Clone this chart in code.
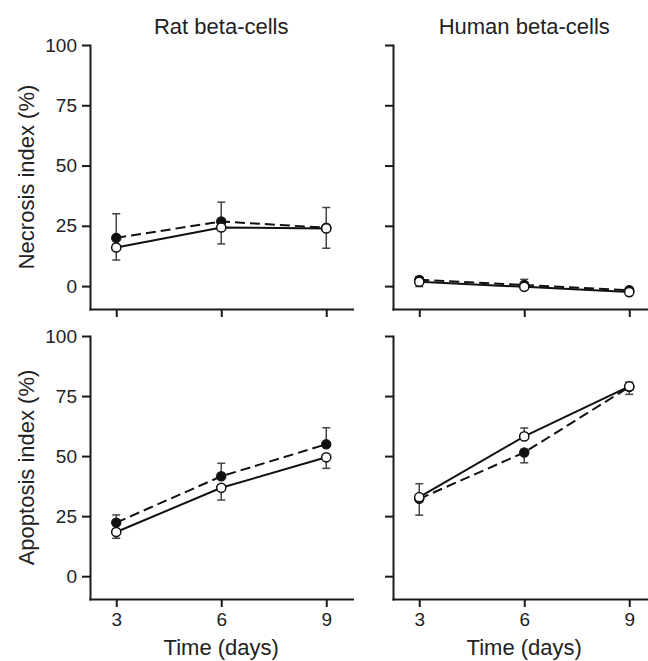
<!DOCTYPE html>
<html>
<head>
<meta charset="utf-8">
<script src="https://cdn.jsdelivr.net/npm/d3@7"></script>
<style>
  body { margin: 0; background: #fff; }
  svg { font-family: "Liberation Sans", Arial, sans-serif; }
  .axis path, .axis line { stroke: #1a1a1a; stroke-width: 2; }
  .axis text { font-size: 19px; fill: #222; }
</style>
</head>
<body>
<div id="chart"></div>
<script>
(function () {
  "use strict";

  // values
  const days = [3, 6, 9];
  const yTicks = [0, 25, 50, 75, 100];
  const colTitles = ["Rat beta-cells", "Human beta-cells"];
  const rowLabels = ["Necrosis index (%)", "Apoptosis index (%)"];
  const xLabel = "Time (days)";

  // filled circles (dashed line) / open circles (solid line)
  const ratNecrosisFilled = [20, 26.8, 24.2];
  const ratNecrosisFilledErr = [10, 8, 8.4];
  const ratNecrosisOpen = [16, 24.3, 23.9];
  const ratNecrosisOpenErr = [5.2, 6.8, 8.2];

  const humanNecrosisFilled = [2.6, 0.5, -1.7];
  const humanNecrosisFilledErr = [1.2, 2.3, 0.6];
  const humanNecrosisOpen = [1.8, -0.3, -2.5];
  const humanNecrosisOpenErr = [2, 0.6, 0.5];

  const ratApoptosisFilled = [22.3, 41.6, 54.9];
  const ratApoptosisFilledErr = [3.2, 5.4, 6.9];
  const ratApoptosisOpen = [18.4, 36.8, 49.5];
  const ratApoptosisOpenErr = [2.6, 5.1, 4.6];

  const humanApoptosisFilled = [32.2, 51.5, 78.8];
  const humanApoptosisFilledErr = [6.8, 4.3, 3.1];
  const humanApoptosisOpen = [32.9, 58.2, 79.0];
  const humanApoptosisOpenErr = [5.6, 3.5, 1.8];

  const panels = [
    { row: 0, col: 0, filled: ratNecrosisFilled, filledErr: ratNecrosisFilledErr, open: ratNecrosisOpen, openErr: ratNecrosisOpenErr },
    { row: 0, col: 1, filled: humanNecrosisFilled, filledErr: humanNecrosisFilledErr, open: humanNecrosisOpen, openErr: humanNecrosisOpenErr },
    { row: 1, col: 0, filled: ratApoptosisFilled, filledErr: ratApoptosisFilledErr, open: ratApoptosisOpen, openErr: ratApoptosisOpenErr },
    { row: 1, col: 1, filled: humanApoptosisFilled, filledErr: humanApoptosisFilledErr, open: humanApoptosisOpen, openErr: humanApoptosisOpenErr }
  ];

  const width = 648;
  const height = 661;
  const colLeft = [90, 393];
  const panelWidth = 262.5;
  const rowTop = [45, 336];
  const rowBottom = [309, 599];

  const svg = d3
    .select("#chart")
    .append("svg")
    .attr("width", width)
    .attr("height", height);

  // column titles
  colTitles.forEach((t, c) => {
    svg
      .append("text")
      .attr("x", colLeft[c] + panelWidth / 2)
      .attr("y", 34)
      .attr("text-anchor", "middle")
      .style("font-size", "22px")
      .style("fill", "#222")
      .text(t);
  });

  // row labels
  rowLabels.forEach((t, r) => {
    const cy = (rowTop[r] + rowBottom[r]) / 2;
    svg
      .append("text")
      .attr("transform", `translate(33.5,${cy}) rotate(-90)`)
      .attr("text-anchor", "middle")
      .style("font-size", "22px")
      .style("fill", "#222")
      .text(t);
  });

  // x labels under the bottom row
  colLeft.forEach((x0) => {
    svg
      .append("text")
      .attr("x", x0 + panelWidth / 2)
      .attr("y", 655)
      .attr("text-anchor", "middle")
      .style("font-size", "22px")
      .style("fill", "#222")
      .text(xLabel);
  });

  panels.forEach((p) => {
    const x = d3
      .scaleLinear()
      .domain([2.25, 9.75])
      .range([colLeft[p.col], colLeft[p.col] + panelWidth]);
    const y = d3
      .scaleLinear()
      .domain([-9.5, 100])
      .range([rowBottom[p.row], rowTop[p.row]]);

    const g = svg.append("g");

    g.append("g")
      .attr("class", "axis")
      .attr("transform", `translate(${colLeft[p.col]},0)`)
      .call(
        d3
          .axisLeft(y)
          .tickValues(yTicks)
          .tickSize(8)
          .tickSizeOuter(0)
          .tickPadding(5)
          .tickFormat(p.col === 0 ? d3.format("d") : () => "")
      );

    g.append("g")
      .attr("class", "axis")
      .attr("transform", `translate(0,${rowBottom[p.row]})`)
      .call(
        d3
          .axisBottom(x)
          .tickValues(days)
          .tickSize(8)
          .tickSizeOuter(0)
          .tickPadding(6)
          .tickFormat(p.row === 1 ? d3.format("d") : () => "")
      );

    g.selectAll(".axis .domain").attr("stroke-linecap", "square");

    // one-sided error bars: upper point goes up, lower point goes down
    const bars = [];
    days.forEach((d, i) => {
      const fUp = p.filled[i] >= p.open[i];
      bars.push({ d: d, v: p.filled[i], e: fUp ? p.filledErr[i] : -p.filledErr[i] });
      bars.push({ d: d, v: p.open[i], e: fUp ? -p.openErr[i] : p.openErr[i] });
    });

    const eb = g.append("g").attr("stroke", "#444").attr("stroke-width", 1.5);
    eb.selectAll("line.stem")
      .data(bars)
      .join("line")
      .attr("class", "stem")
      .attr("x1", (b) => x(b.d))
      .attr("x2", (b) => x(b.d))
      .attr("y1", (b) => y(b.v))
      .attr("y2", (b) => y(b.v + b.e));
    eb.selectAll("line.cap")
      .data(bars)
      .join("line")
      .attr("class", "cap")
      .attr("x1", (b) => x(b.d) - 4)
      .attr("x2", (b) => x(b.d) + 4)
      .attr("y1", (b) => y(b.v + b.e))
      .attr("y2", (b) => y(b.v + b.e));

    const line = d3
      .line()
      .x((d, i) => x(days[i]))
      .y((d) => y(d));

    g.append("path")
      .datum(p.filled)
      .attr("d", line)
      .attr("fill", "none")
      .attr("stroke", "#111")
      .attr("stroke-width", 2)
      .attr("stroke-dasharray", "10,5");

    g.append("path")
      .datum(p.open)
      .attr("d", line)
      .attr("fill", "none")
      .attr("stroke", "#111")
      .attr("stroke-width", 2);

    g.selectAll("circle.filled")
      .data(p.filled)
      .join("circle")
      .attr("class", "filled")
      .attr("cx", (d, i) => x(days[i]))
      .attr("cy", (d) => y(d))
      .attr("r", 4.6)
      .attr("fill", "#111")
      .attr("stroke", "#111")
      .attr("stroke-width", 1.2);

    g.selectAll("circle.open")
      .data(p.open)
      .join("circle")
      .attr("class", "open")
      .attr("cx", (d, i) => x(days[i]))
      .attr("cy", (d) => y(d))
      .attr("r", 4.6)
      .attr("fill", "#fff")
      .attr("stroke", "#111")
      .attr("stroke-width", 1.5);
  });
})();
</script>
</body>
</html>
